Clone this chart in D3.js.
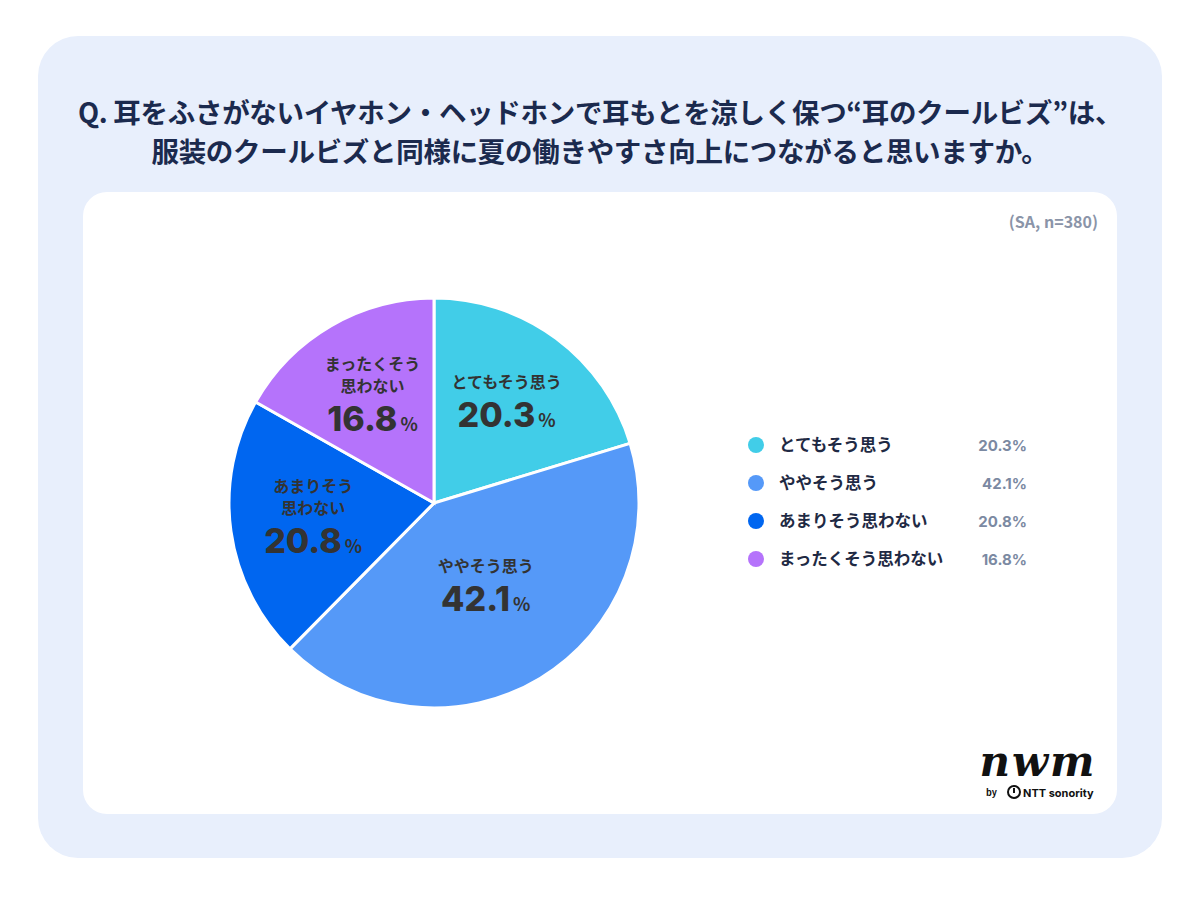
<!DOCTYPE html>
<html>
<head>
<meta charset="utf-8">
<script src="https://cdn.jsdelivr.net/npm/d3@7"></script>
<style>
  body{margin:0;background:#fff;}
  text{font-family:"Noto Sans CJK JP","Noto Sans",sans-serif;}
</style>
</head>
<body>
<svg id="chart" width="1200" height="900"></svg>
<script>
// data
var categories=['とてもそう思う','ややそう思う','あまりそう思わない','まったくそう思わない'];
var pieLabels=[['とてもそう思う'],['ややそう思う'],['あまりそう','思わない'],['まったくそう','思わない']];
var values=[20.3,42.1,20.8,16.8];
var colors=['#41cde8','#5599f8','#0066f0','#b573fb'];
var titleLines=['Q. 耳をふさがないイヤホン・ヘッドホンで耳もとを涼しく保つ“耳のクールビズ”は、','服装のクールビズと同様に夏の働きやすさ向上につながると思いますか。'];
var note='(SA, n=380)';

var svg=d3.select('#chart');

// frames
svg.append('rect').attr('x',38).attr('y',36).attr('width',1124).attr('height',822).attr('rx',40).style('fill','#e8effc');
svg.append('rect').attr('x',83).attr('y',192).attr('width',1034).attr('height',622).attr('rx',24).style('fill','#fff');

// title
svg.selectAll('.title').data(titleLines).enter().append('text')
  .attr('x',600).attr('y',(d,i)=>123+i*39)
  .attr('text-anchor','middle').style('font-size','27.5px').style('font-weight',700).style('fill','#1b2a4e')
  .style('letter-spacing','-0.3px')
  .text(d=>d);

svg.append('text').text(note).attr('x',1098).attr('y',228).attr('text-anchor','end')
  .style('font-size','16px').style('font-weight',700).style('fill','#8a94a8');

// pie
var cx=434,cy=503,r=205;
var pie=d3.pie().sort(null).value(d=>d);
var arcs=pie(values);
var arc=d3.arc().innerRadius(0).outerRadius(r);
var g=svg.append('g').attr('transform','translate('+cx+','+cy+')');
g.selectAll('path').data(arcs).enter().append('path')
  .attr('d',arc).style('fill',(d,i)=>colors[i]).style('stroke','#fff').style('stroke-width',3);

var lab=g.selectAll('.lab').data(arcs).enter().append('g')
  .attr('transform',d=>{
    var lr=d.value>40?100:122;
    var c=d3.arc().innerRadius(lr).outerRadius(lr).centroid(d);
    return 'translate('+c[0]+','+c[1]+')';
  });
lab.each(function(d,i){
  var el=d3.select(this);
  var lines=pieLabels[i];
  var h=14+(lines.length-1)*22+39;
  var top=-h/2-4;
  lines.forEach((t,j)=>{
    el.append('text').text(t).attr('y',top+14+j*22).attr('text-anchor','middle')
      .style('font-size','16px').style('font-weight',700).style('fill','#333');
  });
  var tx=el.append('text').attr('y',top+h).attr('text-anchor','middle')
    .style('fill','#333').style('font-weight',700);
  tx.append('tspan').text(d3.format('.1f')(values[i])).style('font-size','34px').style('font-family','Inter,"Noto Sans",sans-serif').style('font-weight',800);
  tx.append('tspan').text('%').attr('dx',3).style('font-size','18px');
});

// legend
var y=d3.scaleBand().domain(categories).range([426,578]);
var leg=svg.selectAll('.leg').data(categories).enter().append('g')
  .attr('transform',d=>'translate(0,'+(y(d)+y.bandwidth()/2)+')');
leg.append('circle').attr('cx',756).attr('r',8).style('fill',(d,i)=>colors[i]);
leg.append('text').text(d=>d).attr('x',779).attr('y',6)
  .style('font-size','16.5px').style('font-weight',700).style('fill','#1f2a44');
leg.append('text').text((d,i)=>d3.format('.1f')(values[i])+'%').attr('x',1027).attr('y',6).attr('text-anchor','end')
  .style('font-size','15px').style('font-weight',700).style('fill','#7b89a2').style('font-family','Inter,"Noto Sans",sans-serif');

// logo
svg.append('text').text('nwm').attr('x',1038).attr('y',776).attr('text-anchor','middle')
  .style('font-family','"DejaVu Serif",serif').style('font-style','italic').style('font-weight',700)
  .style('font-size','42px').style('letter-spacing','2px').style('fill','#111');
svg.append('text').text('by').attr('x',986).attr('y',796).style('font-size','9px').style('font-weight',700).style('fill','#111');
svg.append('circle').attr('cx',1014).attr('cy',792).attr('r',6).style('fill','none').style('stroke','#111').style('stroke-width',2);
svg.append('line').attr('x1',1014).attr('x2',1014).attr('y1',788).attr('y2',793).style('stroke','#111').style('stroke-width',2);
svg.append('text').text('NTT sonority').attr('x',1023).attr('y',797).style('font-size','11px').style('font-weight',700).style('fill','#111')
  .style('font-family','Inter,sans-serif');
</script>
</body>
</html>
